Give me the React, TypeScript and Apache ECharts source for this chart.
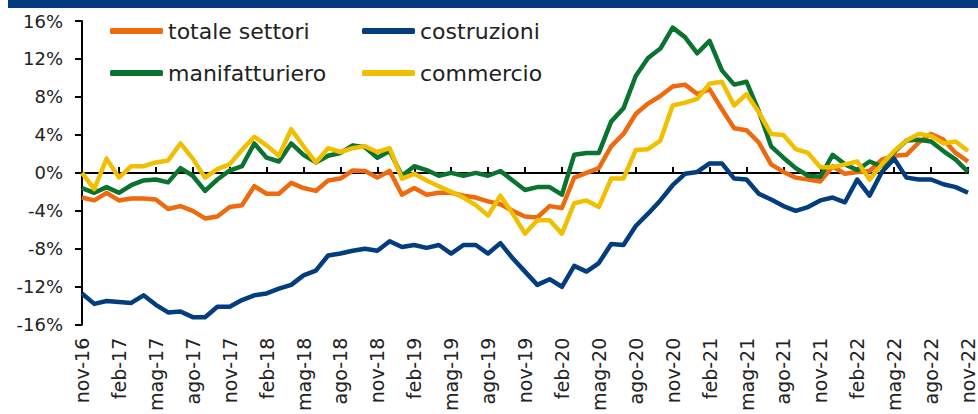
import React, { useEffect, useRef } from 'react';
import * as echarts from 'echarts';

const monthNames = ['gen', 'feb', 'mar', 'apr', 'mag', 'giu', 'lug', 'ago', 'set', 'ott', 'nov', 'dic'];
const categories: string[] = [];
for (let k = 0; k < 73; k++) {
  const m = (10 + k) % 12;
  const y = 16 + Math.floor((10 + k) / 12);
  categories.push(`${monthNames[m]}-${y}`);
}

const yTicks = { min: -16, max: 16, interval: 4 };

const totaleSettori = [
  -2.6, -2.9, -2.1, -2.9, -2.7, -2.7, -2.8, -3.8, -3.5, -4.0,
  -4.8, -4.6, -3.6, -3.4, -1.4, -2.2, -2.2, -1.05, -1.6, -1.9,
  -0.8, -0.6, 0.25, 0.2, -0.5, 0.2, -2.3, -1.6, -2.3, -2.1,
  -2.1, -2.4, -2.6, -3.0, -3.3, -4.0, -4.6, -4.7, -3.5, -3.7,
  -0.5, 0.0, 0.5, 2.8, 4.1, 6.2, 7.3, 8.1, 9.1, 9.3,
  8.3, 8.8, 6.7, 4.7, 4.5, 3.2, 0.9, 0.1, -0.5, -0.7,
  -0.9, 0.7, -0.1, 0.1, 0.2, 1.4, 1.8, 1.9, 3.2, 4.1,
  3.5, 2.1, 1.2,
];

const costruzioni = [
  -12.7, -13.8, -13.5, -13.6, -13.7, -12.9, -13.9, -14.7, -14.6, -15.2,
  -15.2, -14.1, -14.1, -13.4, -12.9, -12.7, -12.2, -11.8, -10.8, -10.3,
  -8.7, -8.5, -8.2, -8.0, -8.2, -7.2, -7.8, -7.6, -7.9, -7.6,
  -8.5, -7.6, -7.6, -8.5, -7.4, -9.0, -10.4, -11.8, -11.2, -12.0,
  -9.8, -10.4, -9.5, -7.5, -7.6, -5.6, -4.3, -2.9, -1.3, -0.1,
  0.1, 1.0, 1.0, -0.6, -0.7, -2.2, -2.8, -3.5, -4.0, -3.6,
  -2.9, -2.6, -3.1, -0.7, -2.4, 0.1, 1.5, -0.5, -0.7, -0.7,
  -1.2, -1.5, -2.1,
];

const manifatturiero = [
  -1.6, -2.1, -1.5, -2.1, -1.3, -0.8, -0.7, -1.0, 0.5, -0.3,
  -1.9, -0.7, 0.25, 0.7, 3.1, 1.6, 1.2, 3.1, 1.9, 1.1,
  1.8, 2.1, 2.9, 2.7, 1.6, 2.3, -0.3, 0.7, 0.3, -0.3,
  0.0, -0.3, 0.0, -0.3, 0.2, -0.8, -1.8, -1.5, -1.5, -2.3,
  1.9, 2.1, 2.1, 5.4, 6.8, 10.2, 12.1, 13.1, 15.3, 14.3,
  12.6, 13.9, 10.8, 9.3, 9.6, 6.5, 2.8, 1.6, 0.5, -0.3,
  -0.4, 1.9, 0.9, 0.3, 1.2, 0.7, 2.2, 3.4, 3.5, 3.3,
  2.3, 1.4, 0.1,
];

const commercio = [
  0.0, -1.7, 1.5, -0.5, 0.7, 0.7, 1.1, 1.3, 3.1, 1.5,
  -0.5, 0.4, 0.9, 2.4, 3.8, 2.9, 1.8, 4.6, 2.8, 1.1,
  2.6, 2.2, 2.6, 2.8, 2.2, 2.6, -0.6, -0.1, -0.8, -1.4,
  -2.0, -2.6, -3.4, -4.5, -2.4, -4.3, -6.4, -5.0, -5.0, -6.4,
  -3.2, -2.9, -3.6, -0.6, -0.6, 2.4, 2.5, 3.4, 7.1, 7.4,
  7.8, 9.4, 9.6, 7.1, 8.3, 6.4, 4.1, 4.0, 2.5, 2.1,
  0.6, 0.6, 0.9, 1.2, -0.7, 0.9, 2.3, 3.4, 4.1, 3.9,
  3.1, 3.3, 2.3,
];

const seriesNames = ['totale settori', 'costruzioni', 'manifatturiero', 'commercio'];
const seriesColors = ['#EE6A0F', '#033D7D', '#0A7330', '#F0C000'];
const seriesData = [totaleSettori, costruzioni, manifatturiero, commercio];

const FONT = 'DejaVu Sans';

export default function App() {
  const ref = useRef<HTMLDivElement>(null);

  useEffect(() => {
    if (!ref.current) return;
    const chart = echarts.init(ref.current, undefined, { renderer: 'svg' });

    const legendPos = [
      { left: 110, top: 20 },
      { left: 362, top: 20 },
      { left: 110, top: 62 },
      { left: 362, top: 62 },
    ];

    chart.setOption({
      animation: false,
      backgroundColor: '#ffffff',
      textStyle: { fontFamily: FONT },
      graphic: [
        {
          type: 'rect',
          shape: { x: 8, y: 0, width: 970, height: 8 },
          style: { fill: '#023B7B' },
          silent: true,
        },
      ],
      legend: seriesNames.map((n, i) => ({
        data: [n],
        left: legendPos[i].left,
        top: legendPos[i].top,
        padding: 0,
        icon: 'roundRect',
        itemWidth: 53,
        itemHeight: 6,
        selectedMode: false,
        textStyle: { fontFamily: FONT, fontSize: 22, color: '#222222' },
      })),
      grid: { left: 82, right: 10, top: 21, bottom: 89, containLabel: false },
      xAxis: [
        {
          type: 'category',
          data: categories,
          boundaryGap: false,
          position: 'bottom',
          axisLine: { show: false, onZero: false },
          axisTick: { show: false },
          axisLabel: {
            interval: 2,
            rotate: 90,
            margin: 13,
            fontFamily: FONT,
            fontSize: 19,
            color: '#222222',
          },
          splitLine: { show: false },
        },
        {
          type: 'category',
          data: categories,
          boundaryGap: false,
          axisLine: { show: true, onZero: true, lineStyle: { color: '#000000', width: 2 } },
          axisTick: { show: true, interval: 2, length: 6, lineStyle: { color: '#000000', width: 2 } },
          axisLabel: { show: false },
          splitLine: { show: false },
        },
      ],
      yAxis: {
        type: 'value',
        min: yTicks.min,
        max: yTicks.max,
        interval: yTicks.interval,
        axisLine: { show: true, lineStyle: { color: '#000000', width: 2 } },
        axisTick: { show: true, length: 7, lineStyle: { color: '#000000', width: 2 } },
        axisLabel: {
          formatter: '{value}%',
          margin: 19,
          fontFamily: FONT,
          fontSize: 18,
          color: '#222222',
        },
        splitLine: { show: false },
      },
      series: seriesNames.map((n, i) => ({
        name: n,
        type: 'line',
        xAxisIndex: 0,
        data: seriesData[i],
        symbol: 'none',
        showSymbol: false,
        color: seriesColors[i],
        lineStyle: { width: 4.5, color: seriesColors[i], join: 'round' },
        itemStyle: { color: seriesColors[i] },
      })),
    });

    return () => chart.dispose();
  }, []);

  return (
    <div
      ref={ref}
      style={{ position: 'fixed', left: 0, top: 0, width: 978, height: 414 }}
    />
  );
}
